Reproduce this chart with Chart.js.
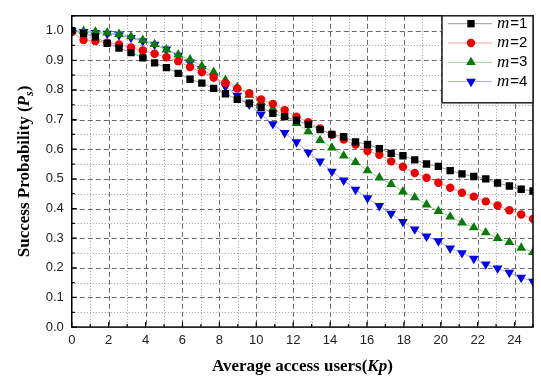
<!DOCTYPE html>
<html>
<head>
<meta charset="utf-8">
<script src="https://cdn.jsdelivr.net/npm/chart.js@4.4.0/dist/chart.umd.min.js"></script>
<style>
  html, body { margin: 0; padding: 0; background: #fff; }
  #wrap { width: 541px; height: 380px; }
</style>
</head>
<body>
<div id="wrap"><canvas id="chart"></canvas></div>
<script>
// average access users (Kp), 40 samples
const kp = [0, 0.64, 1.28, 1.92, 2.56, 3.21, 3.85, 4.49, 5.13, 5.77,
  6.41, 7.05, 7.69, 8.33, 8.97, 9.62, 10.26, 10.9, 11.54, 12.18,
  12.82, 13.46, 14.1, 14.74, 15.38, 16.03, 16.67, 17.31, 17.95, 18.59,
  19.23, 19.87, 20.51, 21.15, 21.79, 22.44, 23.08, 23.72, 24.36, 25];

const m1 = [1.0, 0.99, 0.979, 0.957, 0.941, 0.926, 0.908, 0.891, 0.875, 0.856,
  0.836, 0.823, 0.805, 0.787, 0.768, 0.755, 0.741, 0.721, 0.71, 0.697,
  0.684, 0.666, 0.65, 0.642, 0.625, 0.616, 0.602, 0.586, 0.578, 0.564,
  0.55, 0.542, 0.528, 0.517, 0.508, 0.5, 0.486, 0.476, 0.465, 0.459];

const m2 = [0.995, 0.968, 0.965, 0.959, 0.953, 0.943, 0.933, 0.922, 0.91, 0.897,
  0.877, 0.86, 0.842, 0.823, 0.805, 0.789, 0.768, 0.753, 0.732, 0.71,
  0.691, 0.67, 0.649, 0.633, 0.616, 0.594, 0.581, 0.559, 0.541, 0.52,
  0.504, 0.487, 0.47, 0.453, 0.44, 0.424, 0.41, 0.394, 0.38, 0.365];

const m3 = [1.0, 0.998, 0.996, 0.993, 0.988, 0.98, 0.968, 0.954, 0.936, 0.919,
  0.902, 0.88, 0.86, 0.833, 0.809, 0.783, 0.759, 0.737, 0.712, 0.688,
  0.66, 0.63, 0.605, 0.578, 0.556, 0.528, 0.504, 0.482, 0.457, 0.437,
  0.413, 0.391, 0.372, 0.352, 0.336, 0.319, 0.3, 0.286, 0.267, 0.253];

const m4 = [0.999, 0.996, 0.993, 0.99, 0.985, 0.976, 0.965, 0.953, 0.937, 0.916,
  0.893, 0.871, 0.844, 0.811, 0.781, 0.751, 0.718, 0.685, 0.655, 0.624,
  0.589, 0.559, 0.525, 0.495, 0.464, 0.435, 0.409, 0.383, 0.355, 0.33,
  0.306, 0.29, 0.266, 0.25, 0.231, 0.212, 0.198, 0.184, 0.167, 0.154];

const labels = ["1", "2", "3", "4"];

const toPoints = (ys) => ys.map((y, i) => ({ x: kp[i], y: y }));

const series = [
  { label: labels[0], data: m1, line: "#9a9a9a", fill: "#000000", style: "rect", radius: 5.2, rot: 0 },
  { label: labels[1], data: m2, line: "#f4a0a0", fill: "#ee0000", style: "circle", radius: 4.2, rot: 0 },
  { label: labels[2], data: m3, line: "#9ccf9c", fill: "#0a7a0a", style: "triangle", radius: 5.6, rot: 0 },
  { label: labels[3], data: m4, line: "#a8a8f4", fill: "#0000ee", style: "triangle", radius: 5.6, rot: 180 },
];

// grid, frame and inward tick marks
const framePlugin = {
  id: "framePlugin",
  beforeDatasetsDraw(chart) {
    const { ctx, chartArea: a, scales } = chart;
    ctx.save();
    ctx.lineWidth = 1;
    scales.x.ticks.forEach((t) => {
      if (t.value <= 0 || t.value >= 25) return;
      const px = Math.round(scales.x.getPixelForValue(t.value)) + 0.5;
      const major = t.value % 2 === 0;
      ctx.strokeStyle = major ? "#6a6a6a" : "#9a9a9a";
      ctx.setLineDash(major ? [5, 3] : [1, 2]);
      ctx.beginPath();
      ctx.moveTo(px, a.top);
      ctx.lineTo(px, a.bottom);
      ctx.stroke();
    });
    scales.y.ticks.forEach((t) => {
      if (t.value <= 0 || t.value >= 1.04) return;
      const py = Math.round(scales.y.getPixelForValue(t.value)) + 0.5;
      const major = Math.round(t.value * 100) % 10 === 0;
      ctx.strokeStyle = major ? "#6a6a6a" : "#9a9a9a";
      ctx.setLineDash(major ? [5, 3] : [1, 2]);
      ctx.beginPath();
      ctx.moveTo(a.left, py);
      ctx.lineTo(a.right, py);
      ctx.stroke();
    });
    ctx.restore();
  },
  afterDatasetsDraw(chart) {
    const { ctx, chartArea: a, scales } = chart;
    ctx.save();
    ctx.strokeStyle = "#000";
    ctx.lineWidth = 1.2;
    ctx.beginPath();
    scales.x.ticks.forEach((t) => {
      const px = scales.x.getPixelForValue(t.value);
      const len = t.value % 2 === 0 ? 5 : 3;
      ctx.moveTo(px, a.bottom);
      ctx.lineTo(px, a.bottom - len);
    });
    scales.y.ticks.forEach((t) => {
      const py = scales.y.getPixelForValue(t.value);
      const len = Math.round(t.value * 100) % 10 === 0 ? 5 : 3;
      ctx.moveTo(a.left, py);
      ctx.lineTo(a.left + len, py);
    });
    ctx.stroke();
    ctx.lineWidth = 1.5;
    ctx.strokeRect(a.left, a.top, a.right - a.left, a.bottom - a.top);
    ctx.restore();
  },
};

function drawRich(ctx, parts, x, y) {
  // parts: [text, font, dy]; centred on x
  let total = 0;
  parts.forEach((p) => { ctx.font = p[1]; total += ctx.measureText(p[0]).width; });
  let cx = x - total / 2;
  parts.forEach((p) => {
    ctx.font = p[1];
    ctx.fillText(p[0], cx, y + (p[2] || 0));
    cx += ctx.measureText(p[0]).width;
  });
}

function drawMarker(ctx, s, x, y) {
  ctx.fillStyle = s.fill;
  ctx.beginPath();
  if (s.style === "rect") {
    const h = s.radius * Math.SQRT1_2;
    ctx.rect(x - h, y - h, 2 * h, 2 * h);
  } else if (s.style === "circle") {
    ctx.arc(x, y, s.radius, 0, Math.PI * 2);
  } else {
    const r = s.radius;
    const dir = s.rot === 180 ? -1 : 1;
    ctx.moveTo(x, y - dir * r);
    ctx.lineTo(x - r * 0.866, y + dir * r * 0.5);
    ctx.lineTo(x + r * 0.866, y + dir * r * 0.5);
    ctx.closePath();
  }
  ctx.fill();
}

// axis titles and legend box
const textPlugin = {
  id: "textPlugin",
  afterDraw(chart) {
    const { ctx, chartArea: a } = chart;
    ctx.save();
    ctx.fillStyle = "#000";
    ctx.textBaseline = "middle";
    const b = "bold 17px 'Liberation Serif'";
    const bi = "italic bold 17px 'Liberation Serif'";
    drawRich(ctx, [["Average access users(", b], ["Kp", bi], [")", b]], (a.left + a.right) / 2, 367);

    ctx.save();
    ctx.translate(25, (a.top + a.bottom) / 2);
    ctx.rotate(-Math.PI / 2);
    drawRich(ctx, [["Success Probability (", b], ["P", bi], ["s", "italic bold 12px 'Liberation Serif'", 5], [")", b]], 0, 0);
    ctx.restore();

    // legend
    const lx = 442, ly = a.top, lw = a.right - 442, lh = 87;
    ctx.fillStyle = "#fff";
    ctx.fillRect(lx, ly, lw, lh);
    ctx.strokeStyle = "#222";
    ctx.lineWidth = 1.5;
    ctx.strokeRect(lx, ly, lw, lh);
    series.forEach((s, i) => {
      const yy = 23.7 + i * 19.3;
      ctx.strokeStyle = s.line;
      ctx.lineWidth = 1;
      ctx.beginPath();
      ctx.moveTo(448, yy);
      ctx.lineTo(492, yy);
      ctx.stroke();
      drawMarker(ctx, s, 471, yy);
      ctx.fillStyle = "#000";
      ctx.textBaseline = "middle";
      ctx.font = "italic 17px 'Liberation Serif'";
      ctx.fillText("m", 497, yy);
      const w = ctx.measureText("m").width;
      ctx.font = "15px 'Liberation Sans'";
      ctx.fillText("=" + s.label, 497 + w + 1, yy);
    });
    ctx.restore();
  },
};

const ctx = document.getElementById("chart").getContext("2d");
const chart = new Chart(ctx, {
  type: "line",
  data: {
    datasets: series.map((s) => ({
      label: "m=" + s.label,
      data: toPoints(s.data),
      borderColor: s.line,
      borderWidth: 1,
      backgroundColor: s.fill,
      pointBackgroundColor: s.fill,
      pointBorderColor: s.fill,
      pointBorderWidth: 0,
      pointStyle: s.style,
      pointRotation: s.rot,
      pointRadius: s.radius,
      tension: 0,
      fill: false,
    })),
  },
  options: {
    responsive: true,
    maintainAspectRatio: false,
    animation: false,
    events: [],
    layout: { padding: { left: 37.7, right: 8, top: 1.3, bottom: 25.3 } },
    plugins: {
      legend: { display: false },
      tooltip: { enabled: false },
    },
    scales: {
      x: {
        type: "linear",
        min: 0,
        max: 25,
        grid: { display: false, drawTicks: false },
        border: { display: false },
        ticks: {
          stepSize: 1,
          autoSkip: false,
          maxRotation: 0,
          padding: 6,
          color: "#222",
          font: { family: "'Liberation Sans'", size: 13 },
          callback: (v) => (v % 2 === 0 ? String(v) : ""),
        },
      },
      y: {
        min: 0,
        max: 1.05,
        grid: { display: false, drawTicks: false },
        border: { display: false },
        ticks: {
          stepSize: 0.05,
          autoSkip: false,
          padding: 8,
          color: "#222",
          font: { family: "'Liberation Sans'", size: 13 },
          callback: (v) => (Math.round(v * 100) % 10 === 0 && v < 1.04 ? v.toFixed(1) : ""),
        },
      },
    },
  },
  plugins: [framePlugin, textPlugin],
});
</script>
</body>
</html>
